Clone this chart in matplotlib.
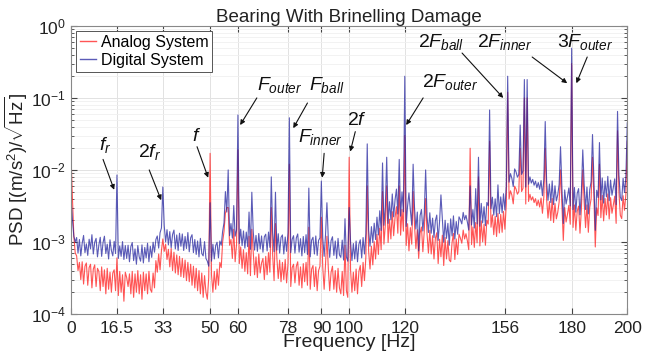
import numpy as np
import matplotlib
matplotlib.use("Agg")
import matplotlib.pyplot as plt

plt.rcParams['font.family'] = ['Liberation Sans', 'DejaVu Sans']
plt.rcParams['mathtext.fontset'] = 'custom'
plt.rcParams['mathtext.rm'] = 'Liberation Sans'
plt.rcParams['mathtext.it'] = 'Liberation Sans:italic'
plt.rcParams['mathtext.bf'] = 'Liberation Sans:bold'

# noise floor, 0.5 Hz steps from 0 to 200 Hz, units of 1e-4
digital_floor = [
    40, 20, 12, 10, 11.5, 7.0, 10.8, 6.4, 9.6, 12.3, 7.1, 9.4, 6.5, 10.9, 8.0, 12.6, 6.8, 9.9, 11.2, 6.2,
    9.1, 11.6, 6.3, 9.8, 12.0, 6.9, 9.3, 5.8, 10.7, 7.6, 6.4, 10.2, 6.9, 11.4, 5.9, 8.8, 6.3, 10.1, 5.7, 8.9,
    5.9, 9.0, 5.3, 8.6, 9.8, 5.5, 8.0, 4.9, 8.9, 6.2, 5.4, 9.1, 5.1, 8.4, 6.0, 9.6, 5.3, 8.7, 6.1, 9.9,
    7.2, 10.8, 12.1, 8.2, 13.4, 15.6, 10.4, 16.9, 10.0, 14.8, 9.1, 13.9, 8.3, 12.7, 14.6, 8.0, 12.5, 7.6, 13.2, 8.7,
    12.9, 7.6, 11.9, 8.1, 13.5, 7.3, 11.4, 12.6, 7.1, 10.8, 6.7, 10.3, 6.2, 11.2, 6.9, 6.4, 10.1, 5.9, 5.4, 4.6,
    8.5, 5.4, 9.3, 5.8, 8.9, 9.9, 6.0, 10.3, 9.0, 14.0, 18.5, 24.0, 26.0, 16.5, 12.2, 18.0, 11.3, 17.4, 12.0, 14.6,
    15.7, 9.5, 15.0, 8.9, 14.2, 8.2, 13.7, 8.6, 14.8, 7.9, 12.7, 14.1, 7.7, 12.3, 7.4, 13.1, 8.0, 12.1, 7.2, 11.8,
    12.8, 7.5, 13.7, 8.4, 7.8, 13.4, 7.3, 12.0, 7.7, 13.0, 7.0, 11.6, 12.5, 6.8, 11.7, 7.4, 13.3, 7.9, 7.1, 10.9,
    12.2, 7.0, 11.4, 12.9, 7.2, 11.1, 6.4, 11.9, 7.1, 12.6, 6.7, 11.2, 6.2, 10.6, 11.6, 6.8, 12.1, 6.5, 10.5, 11.4,
    6.9, 11.5, 6.3, 12.5, 7.0, 10.9, 6.1, 10.4, 11.8, 6.5, 10.3, 5.9, 11.2, 6.6, 6.1, 10.6, 5.6, 9.8, 6.2, 5.4,
    8.9, 10.0, 5.5, 9.5, 5.8, 10.3, 5.3, 9.3, 10.7, 6.0, 11.5, 6.8, 13.0, 7.8, 14.5, 8.7, 16.3, 9.8, 18.2, 10.8,
    22.1, 12.5, 27.1, 14.4, 34.1, 17.0, 30.1, 40.3, 18.1, 36.2, 20.3, 46.4, 22.3, 38.4, 54.2, 24.4, 44.2, 22.8, 49.6, 26.2,
    27.0, 16.4, 31.4, 48.0, 27.7, 17.1, 14.0, 29.8, 15.1, 26.0, 7.5, 23.2, 28.2, 14.2, 24.5, 12.3, 22.7, 13.5, 25.4, 13.2,
    21.4, 11.5, 19.7, 23.6, 10.5, 19.0, 45.0, 21.7, 9.9, 20.0, 11.2, 18.1, 9.0, 20.9, 12.1, 23.0, 11.0, 19.2, 12.8, 22.3,
    20.3, 17.8, 25.7, 20.4, 23.4, 18.9, 14.6, 31.3, 17.2, 28.1, 15.6, 55.0, 17.8, 29.9, 16.5, 34.3, 18.4, 30.8, 16.8, 35.3,
    31.8, 25.9, 28.9, 41.8, 23.5, 39.7, 22.4, 62.0, 24.7, 42.2, 25.4, 46.7, 27.7, 60.0, 81.8, 67.6, 88.8, 76.6, 58.6, 103.3,
    94.1, 79.3, 86.5, 106.4, 86.6, 96.6, 109.4, 57.9, 102.5, 63.3, 80.0, 65.7, 73.8, 61.3, 69.8, 56.8, 66.7, 53.9, 71.2, 43.8,
    74.0, 40.6, 68.8, 37.8, 63.7, 35.2, 70.3, 33.0, 60.2, 37.1, 45.0, 62.9, 34.7, 56.8, 18.0, 52.7, 33.6, 42.5, 56.2, 31.6,
    51.1, 28.1, 57.0, 25.9, 47.3, 55.0, 23.8, 49.6, 30.3, 63.1, 28.2, 57.8, 24.5, 52.9, 68.9, 32.1, 74.8, 14.5, 52.2, 41.3,
    66.2, 38.3, 77.4, 34.6, 70.0, 42.3, 81.4, 37.3, 72.2, 44.5, 58.1, 75.2, 32.9, 68.2, 85.6, 41.9, 37.5, 76.7, 48.7, 79.7,
    84.6,
]
analog_floor = [
    150, 40, 12, 7.0, 6.4, 4.0, 5.2, 3.0, 5.3, 2.6, 4.6, 5.1, 2.5, 4.4, 4.9, 2.3, 4.2, 4.8, 2.4, 4.3,
    3.9, 2.1, 4.5, 2.4, 4.1, 1.9, 4.3, 2.2, 3.8, 2.0, 3.7, 4.1, 2.1, 3.6, 1.8, 3.9, 2.0, 3.5, 1.5, 3.8,
    3.2, 2.4, 3.6, 1.9, 3.9, 1.7, 3.6, 2.0, 4.0, 1.9, 3.5, 1.6, 3.8, 2.1, 3.6, 1.9, 3.9, 2.2, 2.0, 3.7,
    2.3, 5.5, 3.8, 6.8, 4.1, 7.6, 5.4, 7.4, 9.3, 5.7, 7.9, 4.5, 8.1, 4.0, 7.2, 3.7, 6.6, 3.5, 6.3, 3.3,
    5.9, 3.2, 5.6, 2.9, 5.2, 2.8, 4.9, 2.5, 4.6, 2.3, 4.3, 2.1, 4.0, 1.9, 3.7, 1.7, 3.4, 2.0, 1.6, 3.2,
    1.9, 3.5, 2.0, 3.9, 2.2, 4.2, 2.5, 5.2, 4.4, 10.0, 14.0, 22.0, 30.0, 16.5, 9.0, 10.8, 5.9, 9.9, 5.3, 9.2,
    9.5, 5.0, 8.5, 4.3, 7.8, 3.9, 7.1, 3.6, 7.0, 3.4, 6.4, 7.3, 3.5, 6.2, 3.2, 6.8, 3.7, 5.1, 5.9, 3.0,
    6.3, 3.5, 7.1, 3.8, 3.2, 6.5, 2.9, 5.5, 6.0, 3.1, 5.6, 2.8, 5.2, 3.0, 5.7, 2.7, 5.0, 2.6, 2.4, 4.4,
    4.9, 2.7, 4.6, 5.3, 2.5, 4.5, 2.3, 5.0, 2.8, 5.2, 2.5, 4.4, 2.2, 4.2, 4.7, 2.4, 4.5, 2.1, 4.0, 4.6,
    2.5, 4.5, 2.2, 4.9, 2.6, 4.3, 2.1, 3.8, 4.6, 2.2, 4.0, 2.0, 4.3, 2.3, 1.9, 3.9, 1.8, 3.7, 2.1, 1.7,
    3.4, 4.1, 2.0, 3.8, 2.1, 4.2, 1.9, 3.9, 4.7, 2.4, 5.2, 2.9, 6.1, 3.4, 7.4, 4.2, 8.7, 4.8, 10.1, 5.8,
    12.7, 6.7, 15.5, 7.8, 19.4, 9.3, 17.2, 22.9, 9.8, 20.7, 11.0, 26.3, 12.2, 21.9, 30.8, 13.2, 25.2, 12.4, 28.2, 14.1,
    15.3, 8.9, 17.9, 7.5, 15.8, 9.3, 7.2, 17.0, 8.1, 14.8, 5.9, 13.2, 16.1, 7.3, 14.0, 6.3, 13.0, 7.0, 14.5, 6.8,
    12.2, 5.8, 11.2, 13.4, 5.0, 10.9, 6.2, 12.4, 4.7, 11.5, 5.8, 10.4, 5.6, 5.3, 9.8, 13.1, 5.7, 11.0, 6.7, 12.8,
    11.3, 9.6, 14.6, 11.0, 13.0, 10.4, 7.8, 17.8, 9.2, 16.1, 8.4, 18.6, 9.7, 17.0, 8.8, 19.6, 10.0, 17.6, 9.0, 20.0,
    17.7, 14.2, 16.0, 23.8, 12.6, 22.6, 11.9, 24.8, 13.3, 24.1, 13.6, 26.5, 15.0, 34.0, 47.2, 39.5, 51.3, 44.9, 33.8, 59.5,
    54.2, 46.0, 50.0, 61.5, 50.1, 55.6, 63.1, 33.6, 59.1, 36.5, 45.9, 38.1, 42.3, 35.2, 39.9, 31.8, 38.0, 30.5, 40.7, 25.0,
    42.3, 22.9, 39.2, 21.4, 36.4, 19.8, 40.2, 18.6, 34.3, 20.9, 25.7, 35.8, 19.4, 32.4, 10.5, 30.0, 18.9, 24.2, 32.2, 17.6,
    29.1, 15.9, 32.6, 14.5, 26.7, 31.4, 13.2, 28.3, 17.0, 36.2, 15.8, 32.7, 13.6, 30.2, 39.6, 17.7, 42.7, 8.5, 29.8, 23.3,
    37.7, 21.7, 44.2, 19.6, 40.1, 23.7, 46.5, 20.8, 41.2, 25.0, 33.0, 43.2, 18.1, 39.0, 49.0, 23.4, 21.1, 43.8, 27.5, 45.6,
    48.3,
]

# discrete spectral lines: frequency [Hz], digital, analog
peak_freqs = [16.5, 33, 50, 55.5, 56.5, 58.5, 60, 64, 65, 72, 73.5, 78.5, 85.5, 90, 92, 98.5, 100,
              106.5, 112, 113.5, 118, 120, 123, 127.5, 143.5, 146.5, 150.5, 157, 161.5, 163, 164,
              170.5, 176, 180, 184, 187.5, 190, 196.5, 200]
peak_digital = [8.5e-3, 5.8e-3, 3.5e-3, 5e-3, 1.0e-2, 3.2e-3, 5.8e-2, 2.6e-3, 4.9e-3, 8e-3, 4.9e-3, 5.3e-2,
                5.6e-3, 7e-3, 3.5e-3, 2.1e-3, 3e-3, 2.3e-2, 1.25e-2, 1.5e-2, 1.4e-2, 0.2, 1.2e-2, 1e-2,
                6e-3, 1.5e-2, 6.8e-2, 0.2, 4.2e-2, 0.18, 0.18, 4.7e-2, 2.1e-2, 0.49, 1.9e-2, 3.1e-2,
                2.4e-2, 6.5e-2, 4.5e-2]
peak_analog = [6e-4, 1.1e-3, 1.7e-2, 2.5e-3, 3e-3, 1.5e-3, 1.9e-2, 1.2e-3, 1.5e-3, 3e-3, 1.8e-3, 1.2e-2,
               1.6e-3, 2.2e-3, 1.2e-3, 9e-4, 1.5e-2, 6e-3, 5e-3, 6e-3, 6e-3, 3e-2, 5e-3, 4e-3,
               2e-2, 8e-3, 2.5e-2, 0.12, 2e-2, 0.1, 0.1, 2e-2, 1e-2, 0.3, 1e-2, 1.5e-2,
               1.2e-2, 3.5e-2, 2.5e-2]

freq = np.arange(len(digital_floor)) * 0.5
digital = np.array(digital_floor) * 1e-4
analog = np.array(analog_floor) * 1e-4
idx = np.round(np.array(peak_freqs) * 2).astype(int)
digital[idx] = peak_digital
analog[idx] = peak_analog

xticks = [0, 16.5, 33, 50, 60, 78, 90, 100, 120, 156, 180, 200]
xticklabels = ['0', '16.5', '33', '50', '60', '78', '90', '100', '120', '156', '180', '200']

fig = plt.figure(figsize=(6.46, 3.6), dpi=100)
ax = fig.add_axes([0.110, 0.128, 0.861, 0.800])

ax.plot(freq, analog, color='#ff2a2a', lw=0.8, alpha=0.8, label='Analog System')
ax.plot(freq, digital, color='#1c1c9c', lw=0.8, alpha=0.72, label='Digital System')

ax.set_yscale('log')
ax.set_xlim(0, 200)
ax.set_ylim(1e-4, 1)
ax.set_xticks(xticks, xticklabels)
ax.tick_params(axis='both', which='both', direction='in', labelsize=12.5, colors='#444444',
               top=True, right=True)
ax.tick_params(axis='both', which='major', length=4)
ax.tick_params(axis='y', which='minor', length=2)
ax.tick_params(axis='x', pad=5)
for lab in ax.get_xticklabels() + ax.get_yticklabels():
    lab.set_color('#222222')
for s in ax.spines.values():
    s.set_color('#888888')
    s.set_linewidth(0.8)
ax.grid(True, which='major', color='#e2e2e2', lw=0.7)
ax.grid(True, which='minor', axis='y', color='#f0f0f0', lw=0.6)
ax.set_axisbelow(True)

ax.set_title('Bearing With Brinelling Damage', fontsize=13.5, color='#222222', pad=3)
ax.set_xlabel('Frequency [Hz]', fontsize=14, color='#222222', labelpad=-1)
ax.set_ylabel(r'PSD [(m/s$^2$)/$\sqrt{\mathrm{Hz}}$]', fontsize=13.5, color='#222222', labelpad=1)

leg = ax.legend(loc='upper left', fontsize=11.5, handlelength=1.0, handletextpad=0.3,
                borderaxespad=0.3, borderpad=0.25, labelspacing=0.2,
                fancybox=False, framealpha=1, edgecolor='#555555')
leg.get_frame().set_linewidth(0.7)
for ln in leg.get_lines():
    ln.set_linewidth(1.0)

# label text, text center, arrow tail, arrow tip
notes = [
    (r'$f_r$', (12.2, 2.2e-2), (11.5, 1.4e-2), (15.5, 5.3e-3)),
    (r'$2f_r$', (28.4, 1.8e-2), (28.1, 1.0e-2), (32.4, 3.8e-3)),
    (r'$f$', (45.3, 2.9e-2), (45.3, 2.1e-2), (49.3, 7.8e-3)),
    (r'$F_{outer}$', (75.2, 0.15), (66.8, 0.1), (60.8, 4.2e-2)),
    (r'$F_{ball}$', (92.0, 0.15), (85.0, 8.5e-2), (79.9, 3.8e-2)),
    (r'$F_{inner}$', (89.6, 2.9e-2), (91.0, 1.7e-2), (90.3, 7.8e-3)),
    (r'$2f$', (102.9, 4.9e-2), (102.2, 3.4e-2), (100.4, 1.8e-2)),
    (r'$2F_{outer}$', (136.3, 0.166), (126.6, 0.1), (120.5, 4.2e-2)),
    (r'$2F_{ball}$', (133.0, 0.6), (140.6, 0.42), (155.4, 0.1)),
    (r'$2F_{inner}$', (156.0, 0.6), (165.8, 0.37), (178.4, 0.16)),
    (r'$3F_{outer}$', (185.0, 0.6), (185.6, 0.37), (181.7, 0.16)),
]
for txt, pos, tail, tip in notes:
    ax.text(pos[0], pos[1], txt, fontsize=14, ha='center', va='center', color='#111111')
    ax.annotate('', xy=tip, xytext=tail,
                arrowprops=dict(arrowstyle='-|>', color='#111111', lw=0.8,
                                mutation_scale=7, shrinkA=0, shrinkB=0))

fig.savefig('out.png', dpi=100)
